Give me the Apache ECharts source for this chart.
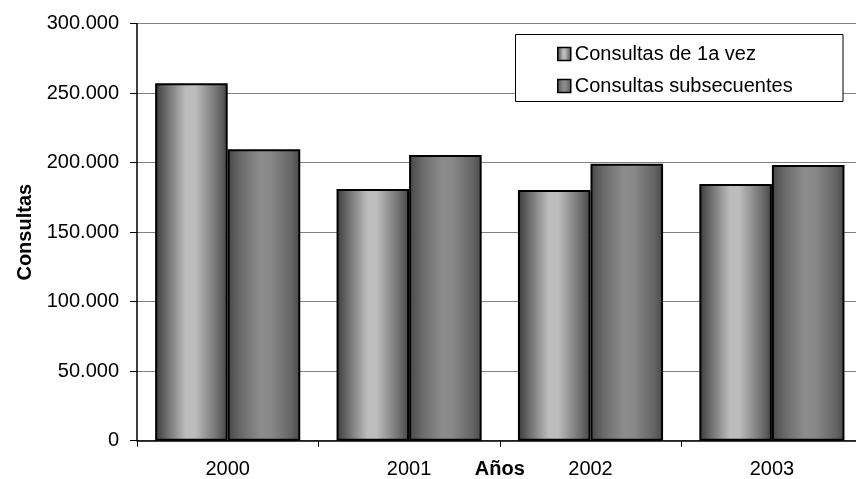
<!DOCTYPE html>
<html>
<head>
<meta charset="utf-8">
<title>Consultas por año</title>
<script src="https://cdn.jsdelivr.net/npm/echarts@6/dist/echarts.min.js"></script>
<style>
  html, body { margin: 0; padding: 0; background: #fff; }
  #chart { width: 856px; height: 479px; }
</style>
</head>
<body>
<div id="chart"></div>
<script>
// Years on the category axis
const years = ['2000', '2001', '2002', '2003'];
// First-time consultations per year
const primeraVez = [257100, 181000, 180300, 184700];
// Follow-up consultations per year
const subsecuentes = [209600, 205500, 199300, 198300];
// Series names shown in the legend
const seriesNames = ['Consultas de 1a vez', 'Consultas subsecuentes'];

const FONT = '"Liberation Sans", Arial, sans-serif';

// Horizontal "cylinder" shading for each series
function shade(stops) {
  return new echarts.graphic.LinearGradient(0, 0, 1, 0,
    stops.map(s => ({ offset: s[0], color: s[1] })));
}
const fillLight = shade([[0, '#3a3a3a'], [0.15, '#6a6a6a'], [0.42, '#bcbcbc'], [0.55, '#bdbdbd'], [0.85, '#727272'], [1, '#454545']]);
const fillDark = shade([[0, '#474747'], [0.18, '#6a6a6a'], [0.45, '#8c8c8c'], [0.6, '#888888'], [0.88, '#646464'], [1, '#4a4a4a']]);

// Thousands separated with a dot: 250000 -> 250.000
function fmt(v) {
  return String(v).replace(/\B(?=(\d{3})+(?!\d))/g, '.');
}

const chart = echarts.init(document.getElementById('chart'), null, { renderer: 'canvas' });

chart.setOption({
  animation: false,
  backgroundColor: '#ffffff',
  textStyle: { fontFamily: FONT, color: '#000' },
  grid: { left: 137, top: 23.7, width: 725.6, height: 417, containLabel: false, outerBoundsMode: 'none' },
  graphic: [{
    type: 'rect',
    z: 50,
    shape: { x: 515.5, y: 34.5, width: 327.5, height: 67 },
    style: { fill: '#ffffff', stroke: '#000000', lineWidth: 1 }
  }],
  legend: {
    z: 60,
    orient: 'vertical',
    left: 557,
    top: 44,
    padding: 0,
    itemWidth: 13,
    itemHeight: 13,
    itemGap: 12,
    icon: 'rect',
    itemStyle: { borderWidth: 1.5, borderColor: '#000' },
    textStyle: { fontFamily: FONT, fontSize: 20, color: '#000', padding: [0, 0, 0, -1] },
    data: seriesNames
  },
  xAxis: {
    type: 'category',
    data: years,
    boundaryGap: true,
    name: 'Años',
    nameLocation: 'middle',
    nameGap: 19,
    nameMoveOverlap: false,
    nameTextStyle: { fontFamily: FONT, fontSize: 20, fontWeight: 'bold', color: '#000', verticalAlign: 'top' },
    axisLine: { show: true, lineStyle: { color: '#000', width: 1.5 } },
    axisTick: { show: true, alignWithLabel: false, length: 6, lineStyle: { color: '#000', width: 1 } },
    axisLabel: { margin: 19, fontFamily: FONT, fontSize: 20, color: '#000' },
    splitLine: { show: false }
  },
  yAxis: {
    type: 'value',
    min: 0,
    max: 300000,
    interval: 50000,
    name: 'Consultas',
    nameLocation: 'middle',
    nameRotate: 90,
    nameGap: 102,
    nameMoveOverlap: false,
    nameTextStyle: { fontFamily: FONT, fontSize: 20, fontWeight: 'bold', color: '#000' },
    axisLine: { show: true, lineStyle: { color: '#000', width: 1.5 } },
    axisTick: { show: true, inside: false, length: 7, lineStyle: { color: '#000', width: 1 } },
    axisLabel: { margin: 18, fontFamily: FONT, fontSize: 20, color: '#000', formatter: fmt },
    splitLine: { show: true, lineStyle: { color: '#808080', width: 1.2 } }
  },
  series: [
    {
      name: seriesNames[0],
      type: 'bar',
      data: primeraVez,
      barGap: '0%',
      barCategoryGap: '20%',
      itemStyle: { color: fillLight, borderColor: '#000', borderWidth: 2 }
    },
    {
      name: seriesNames[1],
      type: 'bar',
      data: subsecuentes,
      barGap: '0%',
      barCategoryGap: '20%',
      itemStyle: { color: fillDark, borderColor: '#000', borderWidth: 2 }
    }
  ]
});
</script>
</body>
</html>
